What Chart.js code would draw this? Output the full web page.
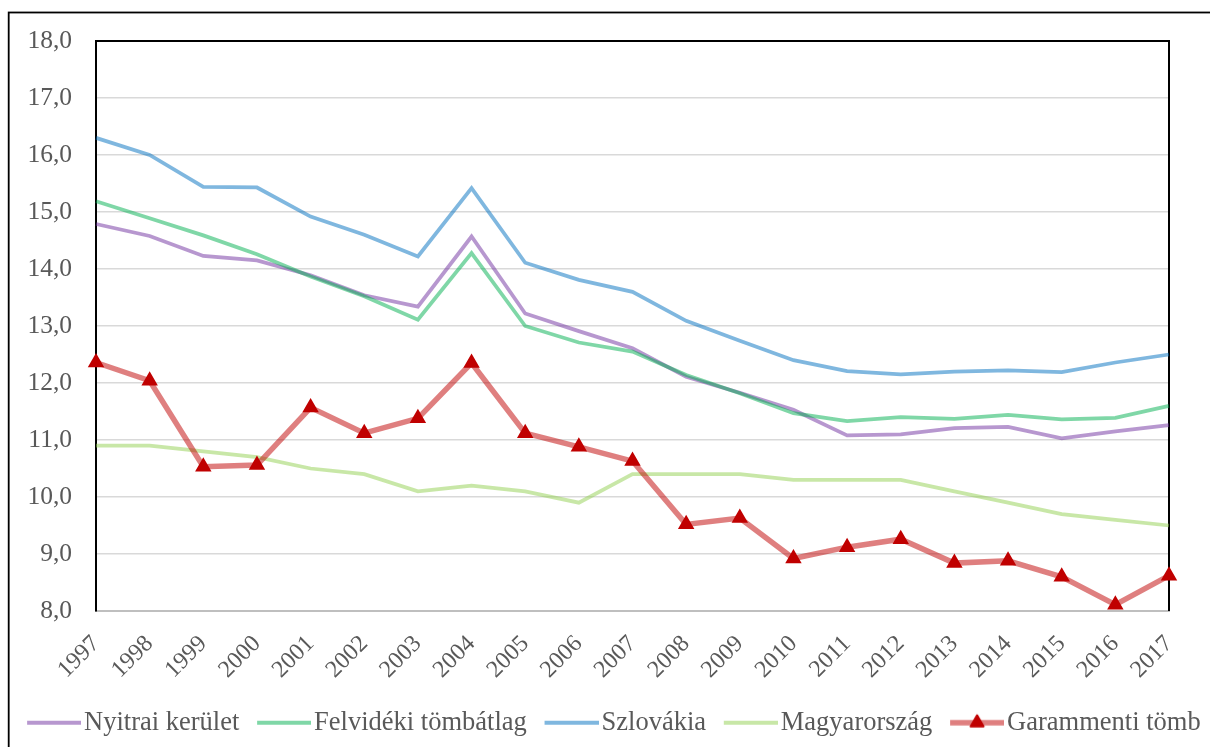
<!DOCTYPE html>
<html><head><meta charset="utf-8">
<script src="https://cdn.jsdelivr.net/npm/chart.js@4.4.1/dist/chart.umd.min.js"></script>
<style>html,body{margin:0;padding:0;background:#fff;}canvas{display:block;}</style>
</head><body>
<canvas id="c" width="1210" height="747"></canvas>
<script>
const years = ['1997','1998','1999','2000','2001','2002','2003','2004','2005','2006','2007','2008','2009','2010','2011','2012','2013','2014','2015','2016','2017'];
const seriesNames = ['Nyitrai kerület','Felvidéki tömbátlag','Szlovákia','Magyarország','Garammenti tömb'];
const nyitrai   = [14.79,14.58,14.23,14.15,13.89,13.54,13.34,14.57,13.22,12.91,12.61,12.11,11.83,11.53,11.08,11.10,11.21,11.23,11.03,11.15,11.26];
const felvideki = [15.19,14.89,14.59,14.26,13.87,13.52,13.11,14.28,13.00,12.71,12.55,12.14,11.82,11.47,11.33,11.40,11.37,11.44,11.36,11.39,11.60];
const szlovakia = [16.30,16.00,15.44,15.43,14.92,14.60,14.22,15.42,14.11,13.81,13.60,13.09,12.74,12.40,12.21,12.15,12.20,12.22,12.19,12.36,12.50];
const magyar    = [10.9,10.9,10.8,10.7,10.5,10.4,10.1,10.2,10.1,9.9,10.4,10.4,10.4,10.3,10.3,10.3,10.1,9.9,9.7,9.6,9.5];
const garam     = [12.36,12.04,10.53,10.56,11.57,11.12,11.38,12.35,11.12,10.88,10.63,9.52,9.63,8.92,9.12,9.26,8.84,8.88,8.60,8.11,8.62];
const yMin = 8, yMax = 18, yStep = 1;

const lineColors = ['rgba(112,48,160,0.5)','rgba(0,176,80,0.5)','rgba(0,112,192,0.5)','rgba(146,208,80,0.5)','rgba(192,0,0,0.5)'];
const markerColor = '#c00000';
const FONT = "'Liberation Serif','Times New Roman',serif";
const textColor = '#595959';

function legendImg(color, marker) {
  const c = document.createElement('canvas');
  c.width = 82; c.height = 24;
  const g = c.getContext('2d');
  g.strokeStyle = color; g.lineWidth = marker ? 5.5 : 4;
  g.beginPath(); g.moveTo(28, 12); g.lineTo(82, 12); g.stroke();
  if (marker) {
    const r = 7.5, cx = 55, cy = 12;
    g.fillStyle = markerColor; g.strokeStyle = markerColor; g.lineWidth = 2; g.lineJoin = 'round';
    g.beginPath();
    for (let k = 0; k < 3; k++) {
      const a = k * 2 * Math.PI / 3;
      const px = cx + Math.sin(a) * r, py = cy - Math.cos(a) * r;
      if (k === 0) g.moveTo(px, py); else g.lineTo(px, py);
    }
    g.closePath(); g.fill(); g.stroke();
  }
  return c;
}

const seriesData = [nyitrai, felvideki, szlovakia, magyar, garam];
const datasets = seriesData.map((d, i) => {
  const isG = i === 4;
  return {
    label: seriesNames[i],
    data: d,
    borderColor: lineColors[i],
    backgroundColor: lineColors[i],
    borderWidth: isG ? 5.5 : 3.75,
    tension: 0,
    pointStyle: isG ? 'triangle' : 'circle',
    pointRadius: isG ? 7.5 : 0,
    pointHoverRadius: isG ? 7.5 : 0,
    pointBackgroundColor: markerColor,
    pointBorderColor: markerColor,
    pointBorderWidth: 2,
    order: 4 - i,
    clip: false,
    yAxisID: 'y'
  };
});

const framePlugin = {
  id: 'frames',
  beforeDraw(chart) {
    const ctx = chart.ctx;
    ctx.save();
    ctx.strokeStyle = '#000'; ctx.lineWidth = 1.8;
    ctx.strokeRect(8.7, 12.5, 1400, 1000);
    ctx.restore();
  },
  beforeDatasetsDraw(chart) {
    const {ctx, chartArea: a} = chart;
    ctx.save();
    ctx.strokeStyle = '#000'; ctx.lineWidth = 2;
    ctx.beginPath();
    ctx.moveTo(a.left - 1, a.top); ctx.lineTo(a.right, a.top); ctx.lineTo(a.right, a.bottom);
    ctx.stroke();
    ctx.restore();
  }
};

new Chart(document.getElementById('c'), {
  type: 'line',
  data: { labels: years, datasets },
  plugins: [framePlugin],
  options: {
    responsive: false,
    devicePixelRatio: 1,
    animation: false,
    layout: { padding: { left: 0, right: 0, top: 41, bottom: 1 } },
    plugins: {
      tooltip: { enabled: false },
      legend: {
        position: 'bottom',
        align: 'center',
        labels: {
          font: { family: FONT, size: 26.5 },
          color: textColor,
          usePointStyle: true,
          pointStyleWidth: 61.5,
          padding: 0,
          generateLabels(chart) {
            return seriesNames.map((n, i) => ({
              text: n,
              fillStyle: lineColors[i],
              strokeStyle: lineColors[i],
              lineWidth: 0,
              pointStyle: legendImg(lineColors[i], i === 4),
              hidden: false,
              datasetIndex: i,
              fontColor: textColor
            }));
          }
        }
      }
    },
    scales: {
      x: {
        type: 'category',
        offset: false,
        grid: { display: false, drawTicks: false },
        border: { display: true, color: '#bfbfbf', width: 2 },
        ticks: {
          autoSkip: false, maxRotation: 45, minRotation: 45, padding: 19,
          font: { family: FONT, size: 24 }, color: textColor
        },
        afterFit(s) { s.height = 98.5; }
      },
      y: {
        position: 'left',
        min: yMin, max: yMax,
        grid: { color: '#d9d9d9', lineWidth: 1.5, drawTicks: false },
        border: { display: true, color: '#000', width: 2 },
        ticks: {
          stepSize: yStep, padding: 24,
          font: { family: FONT, size: 25.5 }, color: textColor,
          callback: v => v.toFixed(1).replace('.', ',')
        },
        afterFit(s) { s.width = 96; }
      },
      y2: {
        position: 'right',
        display: true,
        grid: { display: false, drawTicks: false },
        border: { display: false },
        ticks: { display: false },
        afterFit(s) { s.width = 41; }
      }
    }
  }
});
</script>
</body></html>
